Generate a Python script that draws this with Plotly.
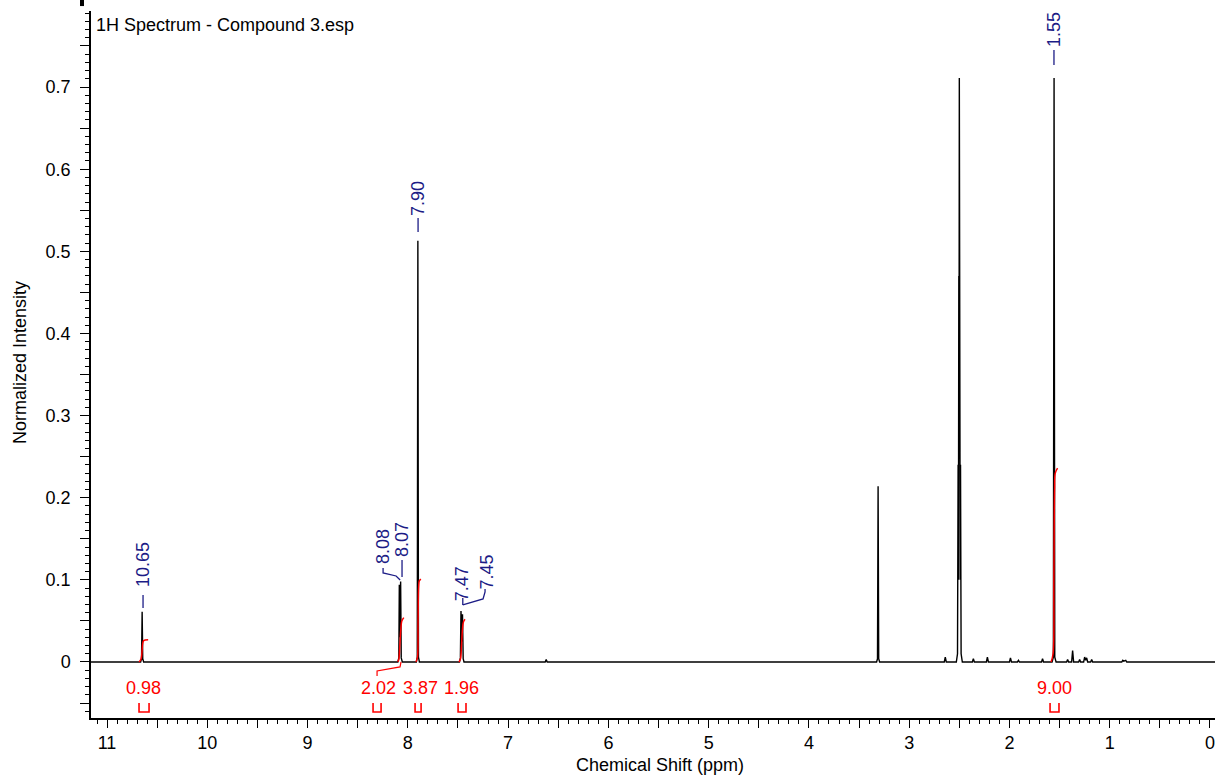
import plotly.graph_objects as go

# ---------------- data ----------------
spec_ppm = [11.16, 10.665, 10.656, 10.65, 10.644, 10.635,
            8.10, 8.09, 8.085, 8.078, 8.072, 8.066, 8.055,
            7.915, 7.906, 7.90, 7.894, 7.885,
            7.485, 7.476, 7.47, 7.462, 7.455, 7.448, 7.44,
            6.63, 6.62, 6.61,
            3.325, 3.316, 3.31, 3.304, 3.295,
            2.65, 2.64, 2.63,
            2.53, 2.518, 2.512, 2.509, 2.505, 2.503, 2.50, 2.497, 2.495, 2.491, 2.488, 2.482, 2.47,
            2.37, 2.36, 2.35,
            2.23, 2.22, 2.21,
            2.00, 1.99, 1.98,
            1.92, 1.91, 1.90,
            1.68, 1.67, 1.66,
            1.575, 1.562, 1.555, 1.548, 1.535,
            1.43, 1.42, 1.41,
            1.38, 1.37, 1.36,
            1.31, 1.30, 1.29,
            1.26, 1.25, 1.24, 1.23, 1.22,
            1.19, 1.18, 1.17,
            0.88, 0.87, 0.86, 0.84, 0.83,
            -0.05]
spec_int = [0, 0, 0.004, 0.061, 0.004, 0,
            0, 0.005, 0.094, 0.03, 0.098, 0.005, 0,
            0, 0.006, 0.513, 0.006, 0,
            0, 0.005, 0.062, 0.025, 0.058, 0.004, 0,
            0, 0.003, 0,
            0, 0.004, 0.214, 0.004, 0,
            0, 0.006, 0,
            0, 0.01, 0.24, 0.1, 0.47, 0.3, 0.711, 0.3, 0.47, 0.1, 0.24, 0.01, 0,
            0, 0.004, 0,
            0, 0.006, 0,
            0, 0.005, 0,
            0, 0.002, 0,
            0, 0.004, 0,
            0, 0.006, 0.711, 0.006, 0,
            0, 0.003, 0,
            0, 0.014, 0,
            0, 0.003, 0,
            0, 0.006, 0.002, 0.005, 0,
            0, 0.003, 0,
            0, 0.002, 0.001, 0.002, 0,
            0]

# peak picks (blue labels)
peak_labels = ["10.65", "8.08", "8.07", "7.90", "7.47", "7.45", "1.55"]

# integrals (red)
integral_labels = ["0.98", "2.02", "3.87", "1.96", "9.00"]
integral_curves_ppm = [
    [10.68, 10.66, 10.65, 10.645, 10.635, 10.59],
    [8.10, 8.09, 8.08, 8.07, 8.06, 8.04],
    [7.92, 7.905, 7.898, 7.892, 7.885, 7.87],
    [7.49, 7.475, 7.465, 7.455, 7.445, 7.43],
    [1.585, 1.565, 1.557, 1.550, 1.543, 1.52],
]
integral_curves_val = [
    [0, 0.004, 0.015, 0.022, 0.026, 0.027],
    [0, 0.003, 0.02, 0.04, 0.05, 0.054],
    [0, 0.005, 0.05, 0.092, 0.099, 0.101],
    [0, 0.004, 0.02, 0.04, 0.049, 0.052],
    [0, 0.01, 0.10, 0.21, 0.23, 0.236],
]
integral_brackets = [(10.681, 10.581), (8.347, 8.267), (7.928, 7.868), (7.499, 7.420), (1.595, 1.506)]

x_tick_labels = ["11", "10", "9", "8", "7", "6", "5", "4", "3", "2", "1", "0"]
y_tick_labels = ["0", "0.1", "0.2", "0.3", "0.4", "0.5", "0.6", "0.7"]

# ---------------- style / layout positions ----------------
FONT = "Liberation Sans, Arial, sans-serif"
BLUE = "#1c1c86"
RED = "#ff0000"
FS = 18

peak_label_pos = [(10.641, 0.118), (8.247, 0.140), (8.058, 0.1485), (7.898, 0.5637),
                  (7.452, 0.0956), (7.21, 0.109), (1.556, 0.7706)]
peak_dashes = [
    ([10.641, 10.641], [0.0657, 0.0816]),
    ([8.077, 8.117, 8.247, 8.247], [0.0998, 0.1047, 0.1084, 0.1144]),
    ([8.058, 8.058], [0.1035, 0.1242]),
    ([7.898, 7.898], [0.5235, 0.5405]),
    ([7.452, 7.452], [0.0694, 0.0779]),
    ([7.452, 7.25, 7.23, 7.23], [0.0694, 0.0767, 0.0852, 0.0890]),
    ([1.556, 1.556], [0.7268, 0.7451]),
]
integral_label_pos = [10.641, 8.297, 7.878, 7.460, 1.546]
integral_label_y = -0.0317
bracket_top, bracket_bot = -0.0499, -0.0609
leader_202 = ([8.307, 8.307, 8.078, 8.068], [-0.017, -0.011, -0.006, 0.0])

fig = go.Figure()

fig.add_trace(go.Scatter(x=spec_ppm, y=spec_int, mode="lines",
                         line=dict(color="black", width=1.4), hoverinfo="skip",
                         showlegend=False))

for xs, ys in zip(integral_curves_ppm, integral_curves_val):
    fig.add_trace(go.Scatter(x=xs, y=ys, mode="lines", line=dict(color=RED, width=1.5, shape="spline"),
                             hoverinfo="skip", showlegend=False))

for xs, ys in peak_dashes:
    fig.add_trace(go.Scatter(x=xs, y=ys, mode="lines", line=dict(color=BLUE, width=1.3),
                             hoverinfo="skip", showlegend=False))

fig.add_trace(go.Scatter(x=leader_202[0], y=leader_202[1], mode="lines",
                         line=dict(color=RED, width=1.2), hoverinfo="skip", showlegend=False))

for (a, b) in integral_brackets:
    fig.add_trace(go.Scatter(x=[a, a, b, b], y=[bracket_top, bracket_bot, bracket_bot, bracket_top],
                             mode="lines", line=dict(color=RED, width=1.6),
                             hoverinfo="skip", showlegend=False))

annotations = []
for txt, (px, py) in zip(peak_labels, peak_label_pos):
    annotations.append(dict(x=px, y=py, xref="x", yref="y", text=txt, showarrow=False,
                            textangle=-90, font=dict(family=FONT, size=FS, color=BLUE),
                            xanchor="center", yanchor="middle"))
for txt, px in zip(integral_labels, integral_label_pos):
    annotations.append(dict(x=px, y=integral_label_y, xref="x", yref="y", text=txt, showarrow=False,
                            font=dict(family=FONT, size=FS, color=RED),
                            xanchor="center", yanchor="middle"))

annotations.append(dict(x=0.0027, y=0.980, xref="paper", yref="paper",
                        text="1H Spectrum - Compound 3.esp", showarrow=False,
                        xanchor="left", yanchor="middle",
                        font=dict(family=FONT, size=FS, color="black")))
annotations.append(dict(x=0.506, y=-0.0665, xref="paper", yref="paper",
                        text="Chemical Shift (ppm)", showarrow=False,
                        xanchor="center", yanchor="middle",
                        font=dict(family=FONT, size=FS, color="black")))
annotations.append(dict(x=-0.0632, y=0.5035, xref="paper", yref="paper",
                        text="Normalized Intensity", showarrow=False, textangle=-90,
                        xanchor="center", yanchor="middle",
                        font=dict(family=FONT, size=FS, color="black")))

x_major = []
x_text = []
for i, lab in enumerate(x_tick_labels):
    v = float(lab)
    x_major.append(v)
    x_text.append(lab)
    if v > 0:
        x_major.append(v - 0.5)
        x_text.append("")
x_major.append(11.5)
x_text.append("")

y_major = [-0.05]
y_text = [""]
for lab in y_tick_labels:
    v = float(lab)
    y_major += [v, v + 0.05]
    y_text += [lab, ""]

fig.update_layout(
    width=1218, height=776,
    margin=dict(l=91, r=3, t=11, b=58),
    paper_bgcolor="white", plot_bgcolor="white",
    font=dict(family=FONT, size=FS, color="black"),
    annotations=annotations,
    shapes=[dict(type="rect", xref="paper", yref="paper",
                 x0=-0.0098, x1=-0.0062, y0=1.007, y1=1.02,
                 fillcolor="black", line=dict(width=0))],
    xaxis=dict(range=[11.16, -0.05], showgrid=False, zeroline=False, automargin=False,
               showline=True, linecolor="black", linewidth=1.5,
               ticks="outside", ticklen=8, tickwidth=1.3, tickcolor="black",
               tickmode="array", tickvals=x_major, ticktext=x_text,
               tickfont=dict(family=FONT, size=FS, color="black"),
               minor=dict(ticks="outside", ticklen=4.5, tickwidth=1.1, tickcolor="black",
                          dtick=0.1, tick0=0, showgrid=False)),
    yaxis=dict(range=[-0.0682, 0.7926], showgrid=False, zeroline=False, automargin=False,
               showline=True, linecolor="black", linewidth=1.5,
               ticks="outside", ticklen=9, tickwidth=1.3, tickcolor="black",
               tickmode="array", tickvals=y_major, ticktext=y_text,
               ticklabelstandoff=6,
               tickfont=dict(family=FONT, size=FS, color="black"),
               minor=dict(ticks="outside", ticklen=4.5, tickwidth=1.1, tickcolor="black",
                          dtick=0.01, tick0=0, showgrid=False)),
)

fig.write_html("out.html", config={"displayModeBar": False},
               post_script="document.body.style.margin='0px';document.body.style.overflow='hidden';")
